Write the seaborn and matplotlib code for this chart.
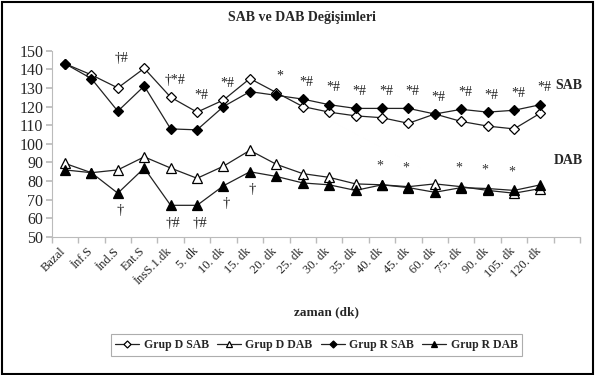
"""SAB ve DAB degisimleri - line chart recreation."""
import matplotlib
matplotlib.use("Agg")
import matplotlib.pyplot as plt
import matplotlib.transforms as mtrans
import numpy as np
import pandas as pd
import seaborn as sns
from matplotlib.patches import Rectangle

categories = ["Bazal", "İnf.S", "İnd.S", "Ent.S", "İnsS.1.dk", "5. dk", "10. dk",
              "15. dk", "20. dk", "25. dk", "30. dk", "35. dk", "40. dk", "45. dk",
              "60. dk", "75. dk", "90. dk", "105. dk", "120. dk"]

grup_d_sab = [143, 137, 130, 140.5, 125, 117, 123.5, 135, 127.5, 120, 117, 115,
              114, 111, 116, 112, 109.5, 108, 116.5]
grup_r_sab = [143, 135, 117.5, 131, 108, 107.5, 120, 128, 126, 124, 121, 119,
              119, 119, 116, 118.5, 117, 118, 121]
grup_d_dab = [89.5, 84.5, 86, 93, 87, 81.5, 88, 96.5, 89, 84, 82, 78.5,
              78, 77, 78.5, 77, 75, 73.5, 76]
grup_r_dab = [86, 84.5, 73.5, 87, 67, 67, 77.5, 85, 82.5, 79, 78, 75,
              78, 76.5, 74, 76.5, 76, 75, 78]

# significance marks above SAB and below/above DAB
sab_notes = ["", "", "†#", "", "†*#", "*#", "*#", "", "*", "*#", "*#", "*#",
             "*#", "*#", "*#", "*#", "*#", "*#", "*#"]
dab_low_notes = ["", "", "†", "", "†#", "†#", "†", "†", "", "", "", "",
                 "", "", "", "", "", "", ""]
dab_high_notes = ["", "", "", "", "", "", "", "", "", "", "", "",
                  "*", "*", "", "*", "*", "*", ""]

series = {
    "Grup D SAB": grup_d_sab,
    "Grup D DAB": grup_d_dab,
    "Grup R SAB": grup_r_sab,
    "Grup R DAB": grup_r_dab,
}
rows = []
for name, vals in series.items():
    for i, v in enumerate(vals):
        rows.append({"pos": i, "value": v, "group": name})
df = pd.DataFrame(rows)

sns.set_theme(style="white")
plt.rcParams["font.family"] = ["Liberation Serif", "DejaVu Serif"]

fig = plt.figure(figsize=(5.95, 3.75), dpi=100)
ax = fig.add_axes([0.087, 0.368, 0.888, 0.497])

styles = {
    "Grup D SAB": dict(marker="D", mfc="white", ms=5.5),
    "Grup D DAB": dict(marker="^", mfc="white", ms=7),
    "Grup R SAB": dict(marker="D", mfc="black", ms=5.5),
    "Grup R DAB": dict(marker="^", mfc="black", ms=7),
}
for name in series:
    st = styles[name]
    sns.lineplot(data=df[df["group"] == name], x="pos", y="value", ax=ax,
                 color="#222222", lw=0.9, marker=st["marker"],
                 markerfacecolor=st["mfc"], markeredgecolor="black",
                 markeredgewidth=0.9, markersize=st["ms"], label=name)

x = np.arange(len(categories))
sab_top = np.maximum(grup_d_sab, grup_r_sab)
dab_top = np.maximum(grup_d_dab, grup_r_dab)
dab_bot = np.minimum(grup_d_dab, grup_r_dab)
for i, s in enumerate(sab_notes):
    if s:
        off = 16 if categories[i] == "İnd.S" else 9
        ax.text(x[i] + 0.15, sab_top[i] + off, s, ha="center", va="center",
                fontsize=10, color="#222222")
for i, s in enumerate(dab_low_notes):
    if s:
        ax.text(x[i] + 0.1, dab_bot[i] - 9.5, s, ha="center", va="center",
                fontsize=10.5, color="#222222")
for i, s in enumerate(dab_high_notes):
    if s:
        ax.text(x[i] - 0.1, dab_top[i] + 10, s, ha="center", va="center",
                fontsize=10, color="#333333")

ax.text(1.005, 0.815, "SAB", transform=ax.transAxes, ha="right", va="center",
        fontsize=10, fontweight="bold")
ax.text(1.005, 0.41, "DAB", transform=ax.transAxes, ha="right",
        va="center", fontsize=10, fontweight="bold")

ax.set_xlim(-0.5, len(categories) + 0.5)
ax.set_ylim(50, 150)
ax.set_yticks(range(50, 151, 10))
ax.tick_params(axis="y", labelsize=11.5, length=4, color="#bbbbbb",
               direction="out", left=True, pad=2)
ax.set_xticks(x)
ax.set_xticklabels(categories, rotation=45, ha="right",
                   rotation_mode="anchor", fontsize=9)
ax.tick_params(axis="x", length=0, pad=6)
shift = mtrans.ScaledTranslation(-5 / 100, 0, fig.dpi_scale_trans)
for lab in ax.get_xticklabels():
    lab.set_transform(lab.get_transform() + shift)
ax.set_xticks(np.arange(-0.5, len(categories) + 1), minor=True)
ax.tick_params(axis="x", which="minor", length=4, color="#bbbbbb",
               direction="out", bottom=True)
for side in ["top", "right"]:
    ax.spines[side].set_visible(False)
for side in ["left", "bottom"]:
    ax.spines[side].set_color("#bbbbbb")
    ax.spines[side].set_linewidth(0.8)

ax.set_xlabel("zaman (dk)", fontsize=9.5, fontweight="bold")
ax.set_ylabel("")
ax.xaxis.set_label_coords(0.52, -0.37)

fig.suptitle("SAB ve DAB Değişimleri", x=0.508, y=0.97, fontsize=10,
             fontweight="bold")

leg = ax.legend(loc="center", bbox_to_anchor=(0.532, 0.08),
                bbox_transform=fig.transFigure, ncol=4, frameon=True,
                handlelength=2.0, handletextpad=0.4, markerscale=0.65,
                columnspacing=0.7, borderpad=0.4, fancybox=False,
                prop={"weight": "bold", "size": 8.5})
leg.get_frame().set_edgecolor("#999999")
leg.get_frame().set_linewidth(0.8)

fig.add_artist(Rectangle((0.003, 0.004), 0.994, 0.992,
                         transform=fig.transFigure, fill=False,
                         edgecolor="black", lw=1.5))

fig.savefig("out.png", dpi=100)
